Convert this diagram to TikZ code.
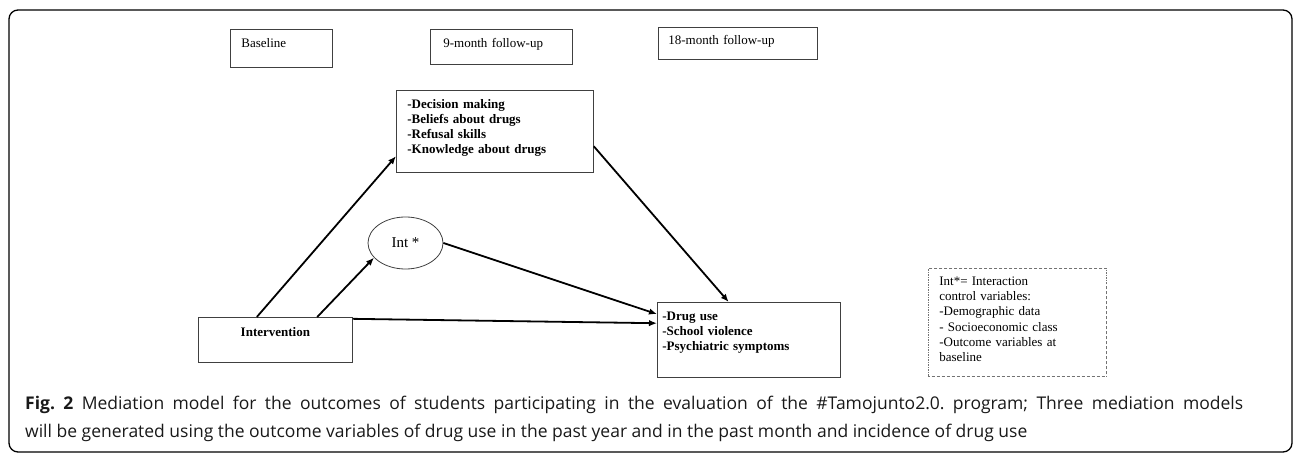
\documentclass[tikz,border=0pt]{standalone}
\usepackage{fontspec}
\setmainfont{Liberation Serif}
\newfontfamily\capfont{Open Sans}
\usetikzlibrary{arrows.meta,calc,shapes.geometric}
\frenchspacing
\begin{document}
\begin{tikzpicture}[
x=1pt, y=-1pt,
box/.style={draw=black!75, line width=0.8pt, anchor=north west, align=left, inner xsep=11pt, inner ysep=8pt, text height=10pt, font=\fontsize{13}{15.3}\selectfont},
bold/.style={font=\fontsize{13}{15}\selectfont\bfseries},
legend/.style={box, draw=black!55, line width=0.6pt, dash pattern=on 2pt off 1.2pt on 0.6pt off 1.2pt},
caption/.style={font=\capfont\fontsize{17.5}{28}\selectfont, inner sep=0pt, anchor=base west, text=black!90},
link/.style={line width=1.8pt, -{Latex[length=8pt,width=6.5pt]}}
]
\useasboundingbox (0,0) rectangle (1296,454);
\draw[line width=1.3pt, rounded corners=9pt] (9,10) rectangle (1292,452);
\node[box, text width=80pt, text depth=12pt] (base) at (230,29) {Baseline};
\node[box, inner xsep=13pt, text width=116pt, text depth=9pt] (nine) at (430,29) {9-month follow-up};
\node[box, inner xsep=10pt, inner ysep=7pt, text width=139pt, text depth=8pt] (eighteen) at (658,27) {18-month follow-up};
\node[box, bold, text width=175pt, text depth=56pt] (med) at (396,90)
  {-Decision making\\-Beliefs about drugs\\-Refusal skills\\-Knowledge about drugs};
\node[draw=black!75, line width=0.8pt, ellipse, minimum width=75pt, minimum height=52pt, inner sep=0pt, font=\fontsize{15}{18}\selectfont] (int) at (405.5,243) {Int *};
\node[box, bold, align=center, inner ysep=9pt, text width=132pt, text depth=17pt] (iv) at (198,317) {Intervention};
\node[box, bold, inner xsep=5pt, text width=173pt, text depth=49pt] (out) at (657,302)
  {-Drug use\\-School violence\\-Psychiatric symptoms};
\node[legend, inner ysep=7pt, text width=156pt, text depth=84pt] (key) at (928,268)
  {Int*= Interaction\\control variables:\\-Demographic data\\- Socioeconomic class\\-Outcome variables at\\baseline};
\draw[link] ($(iv.north west)!0.38!(iv.north east)$) -- ($(med.north west)!0.8!(med.south west)$);
\draw[link] ($(iv.north west)!0.77!(iv.north east)$) -- (int.205);
\draw[link] (int.east) -- ($(out.north west)!0.16!(out.south west)$);
\draw[link] ($(iv.north east)!0.04!(iv.south east)$) -- ($(out.north west)!0.28!(out.south west)$);
\draw[link] ($(med.north east)!0.68!(med.south east)$) -- ($(out.north west)!0.39!(out.north east)$);
\node[caption] (cap1) at (25,409) {\makebox[1218pt][s]{\textbf{Fig. 2} Mediation model for the outcomes of students participating in the evaluation of the \#Tamojunto2.0. program; Three mediation models}};
\node[caption] (cap2) at (25,437) {will be generated using the outcome variables of drug use in the past year and in the past month and incidence of drug use};
\end{tikzpicture}
\end{document}
